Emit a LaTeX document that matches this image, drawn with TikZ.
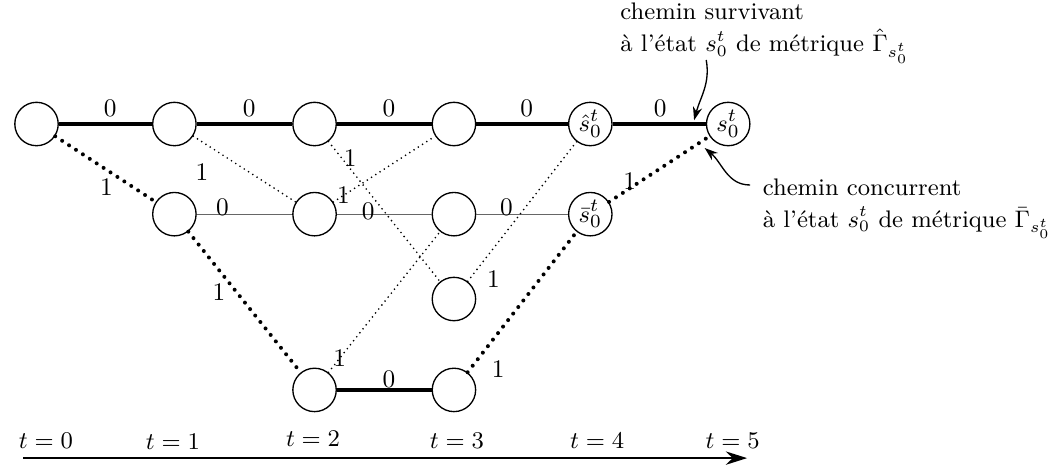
\documentclass[tikz,border=0pt]{standalone}
\usepackage{fontspec}
\usepackage{amsmath}
\usetikzlibrary{arrows.meta}

\begin{document}
\begin{tikzpicture}[
font=\fontsize{9.5}{12}\selectfont,
state/.style={circle,draw,line width=0.5pt,minimum size=0.573cm,inner sep=0pt},
lbl/.style={inner sep=1pt,text=black},
survive/.style={line width=1.4pt},
thick dots/.style={line width=1.5pt,line cap=round,dash pattern=on 0pt off 3.1pt},
thin dots/.style={line width=0.7pt,line cap=round,dash pattern=on 0pt off 1.9pt},
branch/.style={line width=0.5pt,black!60},
note/.style={align=left,inner sep=0pt,anchor=north west,font=\fontsize{9}{12}\selectfont},
pointer/.style={-{Stealth[length=5pt,width=3.5pt]},line width=0.5pt},
axis/.style={-{Stealth[length=8pt,width=5pt]},line width=0.9pt}
]
\useasboundingbox (-0.482,-4.501) rectangle (13.444,1.637);

% states of the trellis
\node[state] (a0) at (0,0) {};
\node[state] (a1) at (1.82,0) {};
\node[state] (a2) at (3.67,0) {};
\node[state] (a3) at (5.51,0) {};
\node[state] (a4) at (7.31,0) {$\hat{s}_0^t$};
\node[state] (a5) at (9.13,0) {$s_0^t$};

\node[state] (b1) at (1.82,-1.19) {};
\node[state] (b2) at (3.67,-1.19) {};
\node[state] (b3) at (5.51,-1.19) {};
\node[state] (b4) at (7.31,-1.19) {$\bar{s}_0^t$};

\node[state] (c3) at (5.51,-2.31) {};

\node[state] (d2) at (3.67,-3.51) {};
\node[state] (d3) at (5.51,-3.51) {};

% thin branches
\draw[branch] (b1) -- node[lbl,pos=0.27,yshift=2.6pt] {0} (b2);
\draw[branch] (b2) -- node[lbl,pos=0.33,yshift=1pt] {0} (b3);
\draw[branch] (b3) -- node[lbl,pos=0.33,yshift=2.6pt] {0} (b4);

\draw[thin dots] (a1) -- node[lbl,pos=0.22,xshift=-5.2pt,yshift=-8.1pt] {1} (b2);
\draw[thin dots] (a2) -- node[lbl,pos=0.15,xshift=1.9pt,yshift=1.5pt] {1} (c3);
\draw[thin dots] (b2) -- node[lbl,pos=0.1] {1} (a3);
\draw[thin dots] (d2) -- node[lbl,pos=0.1] {1} (b3);
\draw[thin dots] (c3) -- node[lbl,pos=0.1,xshift=5.6pt,yshift=-4.4pt] {1} (a4);

% surviving and competing paths
\draw[survive] (a0) -- node[lbl,pos=0.55,yshift=6pt] {0} (a1);
\draw[survive] (a1) -- node[lbl,pos=0.55,yshift=6pt] {0} (a2);
\draw[survive] (a2) -- node[lbl,pos=0.55,yshift=6pt] {0} (a3);
\draw[survive] (a3) -- node[lbl,pos=0.55,yshift=6pt] {0} (a4);
\draw[survive] (a4) -- node[lbl,pos=0.51,yshift=6pt] {0} (a5);
\draw[survive] (d2) -- node[lbl,pos=0.55,yshift=3.8pt] {0} (d3);

\draw[thick dots] (a0) -- node[lbl,pos=0.59,xshift=-3pt,yshift=-4.6pt] {1} (b1);
\draw[thick dots] (b1) -- node[lbl,pos=0.37,xshift=-4.1pt,yshift=-3.2pt] {1} (d2);
\draw[thick dots] (d3) -- node[lbl,pos=0.12,xshift=6.6pt,yshift=-5.2pt] {1} (b4);
\draw[thick dots] (b4) -- node[lbl,pos=0.24,xshift=-1.3pt,yshift=2pt] {1} (a5);

% comments
\node[note] (surv) at (7.70,1.60) {chemin survivant\\à l'état $s_0^t$ de métrique $\hat{\Gamma}_{s_0^t}$};
\node[note] (conc) at (9.58,-0.713) {chemin concurrent\\à l'état $s_0^t$ de métrique $\bar{\Gamma}_{s_0^t}$};
\coordinate (survtail) at (8.84,0.845);
\coordinate (survhead) at (8.68,0.05);
\coordinate (conctail) at (9.42,-0.805);
\coordinate (conchead) at (8.82,-0.317);
\draw[pointer] (survtail) to[out=-80,in=75] (survhead);
\draw[pointer] (conctail) to[out=180,in=-40] (conchead);

% time axis
\node (t0) at (0.125,-4.18) {$t=0$};
\node (t1) at (1.80,-4.20) {$t=1$};
\node (t2) at (3.65,-4.16) {$t=2$};
\node (t3) at (5.55,-4.18) {$t=3$};
\node (t4) at (7.40,-4.18) {$t=4$};
\node (t5) at (9.19,-4.18) {$t=5$};
\coordinate (axisstart) at (-0.178,-4.41);
\coordinate (axisend) at (9.38,-4.41);
\draw[axis] (axisstart) -- (axisend);

\end{tikzpicture}
\end{document}
